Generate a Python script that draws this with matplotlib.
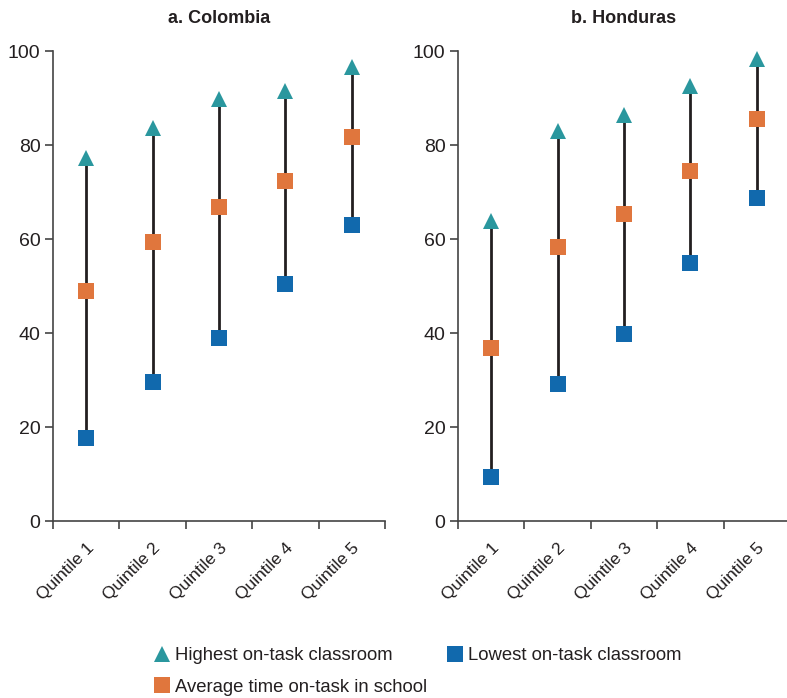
import matplotlib
matplotlib.use("Agg")
import matplotlib.pyplot as plt
from matplotlib.lines import Line2D
import numpy as np

plt.rcParams['font.family'] = ['Liberation Sans', 'DejaVu Sans']

categories = ["Quintile 1", "Quintile 2", "Quintile 3", "Quintile 4", "Quintile 5"]
panels = ["a. Colombia", "b. Honduras"]

colombia_high = [77.3, 83.7, 89.7, 91.4, 96.5]
colombia_avg = [49.0, 59.4, 66.9, 72.4, 81.8]
colombia_low = [17.6, 29.5, 38.9, 50.5, 62.9]

honduras_high = [63.9, 83.0, 86.4, 92.6, 98.4]
honduras_avg = [36.8, 58.4, 65.4, 74.5, 85.6]
honduras_low = [9.3, 29.1, 39.7, 54.8, 68.8]

yticks = [0, 20, 40, 60, 80, 100]
legend_labels = ["Highest on-task classroom", "Average time on-task in school",
                 "Lowest on-task classroom"]

TEAL = "#2a979e"
ORANGE = "#e0763d"
BLUE = "#1169ad"
DARK = "#231f20"

fig = plt.figure(figsize=(7.87, 6.98), dpi=100)
ax1 = fig.add_axes([53/787, 177/698, 332/787, 470/698])
ax2 = fig.add_axes([458/787, 177/698, 332/787, 470/698])

data = [(colombia_high, colombia_avg, colombia_low),
        (honduras_high, honduras_avg, honduras_low)]

for ax, title, (hi, av, lo) in zip([ax1, ax2], panels, data):
    x = np.arange(len(categories))
    ax.vlines(x, lo, hi, color=DARK, lw=2.0, zorder=2)
    ax.plot(x, hi, ls='none', marker='^', ms=11.5, color=TEAL, mew=0, zorder=3)
    ax.plot(x, av, ls='none', marker='s', ms=11.5, color=ORANGE, mew=0, zorder=3)
    ax.plot(x, lo, ls='none', marker='s', ms=11.5, color=BLUE, mew=0, zorder=3)
    ax.set_xlim(-0.5, 4.5)
    ax.set_ylim(0, 100)
    ax.set_yticks(yticks)
    ax.set_yticklabels([str(t) for t in yticks], fontsize=14, color=DARK)
    ax.set_xticks(x)
    ax.set_xticklabels(categories, rotation=45, ha='right', rotation_mode='anchor',
                       fontsize=12.5, color=DARK)
    ax.set_xticks(np.arange(-0.5, 5.0, 1.0), minor=True)
    ax.tick_params(axis='x', which='major', length=0, pad=14)
    ax.tick_params(axis='x', which='minor', length=6, width=1.2, color='#444444', direction='out')
    ax.tick_params(axis='y', length=6, width=1.2, color='#444444', direction='out', pad=3)
    for s in ['top', 'right']:
        ax.spines[s].set_visible(False)
    for s in ['left', 'bottom']:
        ax.spines[s].set_color('#444444')
        ax.spines[s].set_linewidth(1.2)
    ax.set_title(title, fontsize=13, fontweight='bold', color=DARK, pad=20)
    ax.patch.set_alpha(0)

handles = [
    Line2D([], [], ls='none', marker='^', ms=12, color=TEAL, mew=0),
    Line2D([], [], ls='none', marker='s', ms=12, color=ORANGE, mew=0),
    Line2D([], [], ls='none', marker='s', ms=12, color=BLUE, mew=0),
]
fig.legend(handles, legend_labels, ncol=2, loc='upper left',
           bbox_to_anchor=(153/787, 1 - 647/698), frameon=False,
           fontsize=13.3, handletextpad=0.2, columnspacing=1.0, labelspacing=0.8,
           handlelength=1.0, borderaxespad=0, borderpad=0, labelcolor=DARK)

fig.savefig("out.png", dpi=100)
